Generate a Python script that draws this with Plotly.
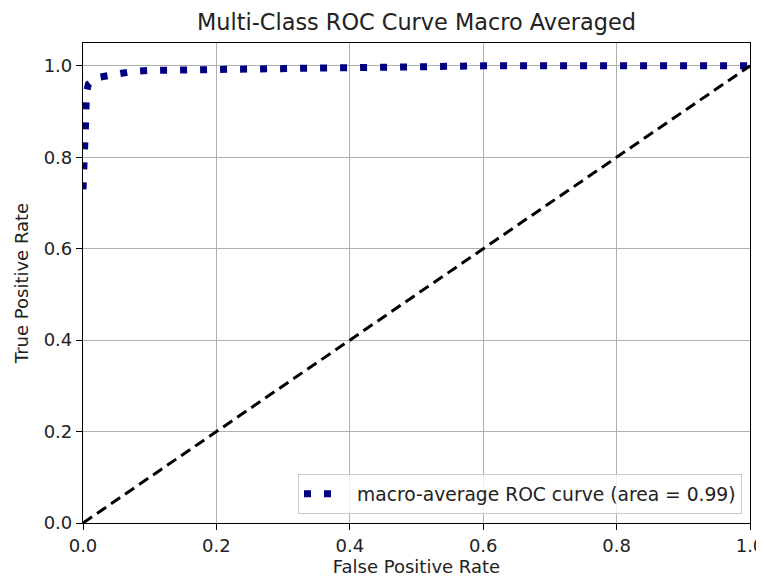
import plotly.graph_objects as go

fpr = [0.0, 0.003, 0.004, 0.005, 0.008, 0.02, 0.045, 0.075, 0.1, 0.2, 0.3, 0.4, 0.45, 0.46, 0.6, 0.8, 1.0]
tpr = [0.73, 0.80, 0.88, 0.94, 0.96, 0.974, 0.982, 0.988, 0.990, 0.992, 0.994, 0.996, 0.997, 1.0, 1.0, 1.0, 1.0]
diag_x = [0.0, 1.0]
diag_y = [0.0, 1.0]
x_ticks = [0.0, 0.2, 0.4, 0.6, 0.8, 1.0]
y_ticks = [0.0, 0.2, 0.4, 0.6, 0.8, 1.0]
label = "macro-average ROC curve (area = 0.99)"

font = "DejaVu Sans"
# page body has an 8px default margin, so the figure is drawn 8px in and 8px down
W, H = 764, 570
fig = go.Figure()
fig.add_trace(go.Scatter(x=fpr, y=tpr, mode="lines", name=label, showlegend=False,
                         line=dict(color="navy", width=7, dash="7px,13px"),
                         cliponaxis=False))
# legend entry only (two-dot key like matplotlib's)
fig.add_trace(go.Scatter(x=[None], y=[None], mode="lines", name=label, showlegend=True,
                         line=dict(color="navy", width=7, dash="7px,13px,7px,200px")))
fig.add_trace(go.Scatter(x=diag_x, y=diag_y, mode="lines", showlegend=False,
                         line=dict(color="black", width=3, dash="11px,6px")))

axis_common = dict(showline=True, linecolor="black", linewidth=1.2, mirror=True,
                   ticks="outside", ticklen=6, tickcolor="black", tickwidth=1.2,
                   showgrid=True, gridcolor="#b0b0b0", gridwidth=1.3,
                   zeroline=False, tickformat=".1f", automargin=False,
                   ticklabeloverflow="allow",
                   tickfont=dict(family=font, size=18, color="#222222"))
fig.update_xaxes(range=[0, 1.0], tickvals=x_ticks,
                 title=dict(text="False Positive Rate", font=dict(family=font, size=18, color="#222222"), standoff=4),
                 **axis_common)
fig.update_yaxes(range=[0, 1.05], tickvals=y_ticks,
                 title=dict(text="True Positive Rate", font=dict(family=font, size=18, color="#222222"), standoff=10),
                 **axis_common)
fig.update_layout(
    width=W, height=H,
    margin=dict(l=75, r=22, t=35, b=55),
    paper_bgcolor="white", plot_bgcolor="white",
    title=dict(text="Multi-Class ROC Curve Macro Averaged", x=408.5 / W, xanchor="center",
               y=1 - 14 / H, yanchor="middle",
               font=dict(family=font, size=22.4, color="#222222")),
    legend=dict(x=(734 - 75) / 667, xanchor="right", y=(515 - 506) / 480, yanchor="bottom",
                bgcolor="rgba(255,255,255,0.8)", bordercolor="#cccccc", borderwidth=1,
                font=dict(family=font, size=18.7, color="#222222"), itemwidth=48),
    showlegend=True,
)
fig.write_html("out.html")
